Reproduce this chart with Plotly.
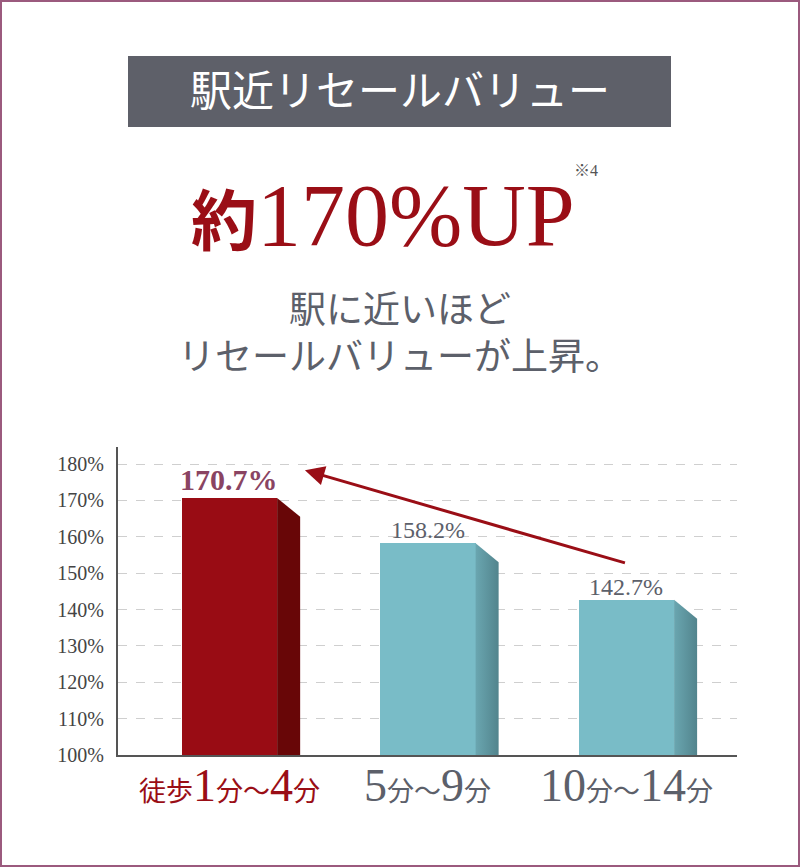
import plotly.graph_objects as go

# ---- data ----
categories = ["徒歩1分～4分", "5分～9分", "10分～14分"]
values = [170.7, 158.2, 142.7]
value_labels = ["170.7%", "158.2%", "142.7%"]
y_ticks = [100, 110, 120, 130, 140, 150, 160, 170, 180]
y_tick_text = ["100%", "110%", "120%", "130%", "140%", "150%", "160%", "170%", "180%"]
cat_labels = [
    "<span style='font-size:27px'>徒歩</span>1<span style='font-size:27px'>分～</span>4<span style='font-size:27px'>分</span>",
    "5<span style='font-size:27px'>分～</span>9<span style='font-size:27px'>分</span>",
    "10<span style='font-size:27px'>分～</span>14<span style='font-size:27px'>分</span>",
]

# ---- style ----
W, H = 800, 867
L, R, T, B = 118, 737, 447, 755
RED = "#990c14"
RED_SIDE = "#680607"
TEAL = "#79bcc7"
GRAY_TXT = "#5c606a"
SERIF = "Liberation Serif, 'Noto Sans CJK JP', serif"

def px(x):
    return (x - L) / (R - L)

def py(y):
    return (B - y) / (B - T)

bar_w = 0.48
depth_x = 0.116
depth_y = 5.2
idx = list(range(len(categories)))
front_colors = [RED, TEAL, TEAL]
label_colors = ["#9a0e16", GRAY_TXT, GRAY_TXT]

fig = go.Figure()
fig.add_trace(go.Bar(x=idx, y=values, width=bar_w, marker=dict(color=front_colors, line=dict(width=0)),
                     hoverinfo="skip", showlegend=False))

# side faces (3D effect) computed from values
for i, v in zip(idx, values):
    x0 = i + bar_w / 2
    xs = [x0, x0, x0 + depth_x, x0 + depth_x, x0]
    ys = [100, v, v - depth_y, 100, 100]
    if i == 0:
        fig.add_trace(go.Scatter(x=xs, y=ys, fill="toself", fillcolor=RED_SIDE, mode="lines",
                                 line=dict(width=0), hoverinfo="skip", showlegend=False))
    else:
        fig.add_trace(go.Scatter(x=xs, y=ys, fill="toself", mode="lines", line=dict(width=0),
                                 fillgradient=dict(type="horizontal",
                                                   colorscale=[[0, "#6aa6b0"], [1, "#52848d"]]),
                                 hoverinfo="skip", showlegend=False))

# value labels
for i, (v, t) in enumerate(zip(values, value_labels)):
    if i == 0:
        font = dict(family=SERIF, size=30, color="#8a4462", weight="bold")
        ys = 0
    else:
        font = dict(family=SERIF, size=24, color=GRAY_TXT)
        ys = -2
    fig.add_annotation(x=i, y=v, text=t, showarrow=False, yanchor="bottom", yshift=ys, font=font)

# category labels under the axis
for i, (t, c) in enumerate(zip(cat_labels, label_colors)):
    fig.add_annotation(x=i, y=0, xref="x", yref="paper", text=t, showarrow=False,
                       yanchor="top", yshift=-3, font=dict(family=SERIF, size=46, color=c))

# arrow from bar 3 toward bar 1
fig.add_annotation(x=0.38, y=values[0] + 7.6, ax=2.0, ay=values[2] + 10.0,
                   xref="x", yref="y", axref="x", ayref="y", text="", showarrow=True,
                   arrowhead=2, arrowsize=1.3, arrowwidth=3, arrowcolor="#9a0e16")

shapes = [
    dict(type="rect", xref="paper", yref="paper", x0=px(1), x1=px(799), y0=py(1), y1=py(866),
         line=dict(color="#9b5a7e", width=2), fillcolor="rgba(0,0,0,0)", layer="below"),
    dict(type="rect", xref="paper", yref="paper", x0=px(128), x1=px(671), y0=py(56), y1=py(127),
         line=dict(width=0), fillcolor="#5e6069", layer="below"),
]

ann = [
    dict(x=px(400), y=py(92), text="駅近リセールバリュー", font=dict(family=SERIF, size=42, color="white")),
    dict(x=px(383), y=py(215),
         text="<span style='font-size:66px'><b>約</b></span>170%UP",
         font=dict(family=SERIF, size=88, color="#9a0e16")),
    dict(x=px(586), y=py(170), text="※4", font=dict(family=SERIF, size=16, color="#555")),
    dict(x=px(400), y=py(310), text="駅に近いほど", font=dict(family=SERIF, size=37, color=GRAY_TXT)),
    dict(x=px(400), y=py(357), text="リセールバリューが上昇。", font=dict(family=SERIF, size=37, color=GRAY_TXT)),
]
for a in ann:
    fig.add_annotation(xref="paper", yref="paper", showarrow=False, xanchor="center", yanchor="middle", **a)

fig.update_layout(
    width=W, height=H,
    margin=dict(l=L, r=W - R, t=T, b=H - B),
    paper_bgcolor="white", plot_bgcolor="white",
    shapes=shapes, bargap=0,
    xaxis=dict(range=[-0.5617, 2.557], showticklabels=False, showgrid=False,
               zeroline=False, showline=True, linecolor="#555", linewidth=2, fixedrange=True),
    yaxis=dict(range=[100, 184.7], tickmode="array", tickvals=y_ticks, ticktext=y_tick_text,
               showgrid=True, gridcolor="#cfcfcf", griddash="dash", gridwidth=1, zeroline=False,
               showline=True, linecolor="#555", linewidth=2,
               tickfont=dict(family=SERIF, size=20, color="#444"), ticklabelstandoff=8, fixedrange=True),
    font=dict(family=SERIF),
)

fig.write_html("out.html", post_script="document.body.style.margin='0';",
               config={"displayModeBar": False})
